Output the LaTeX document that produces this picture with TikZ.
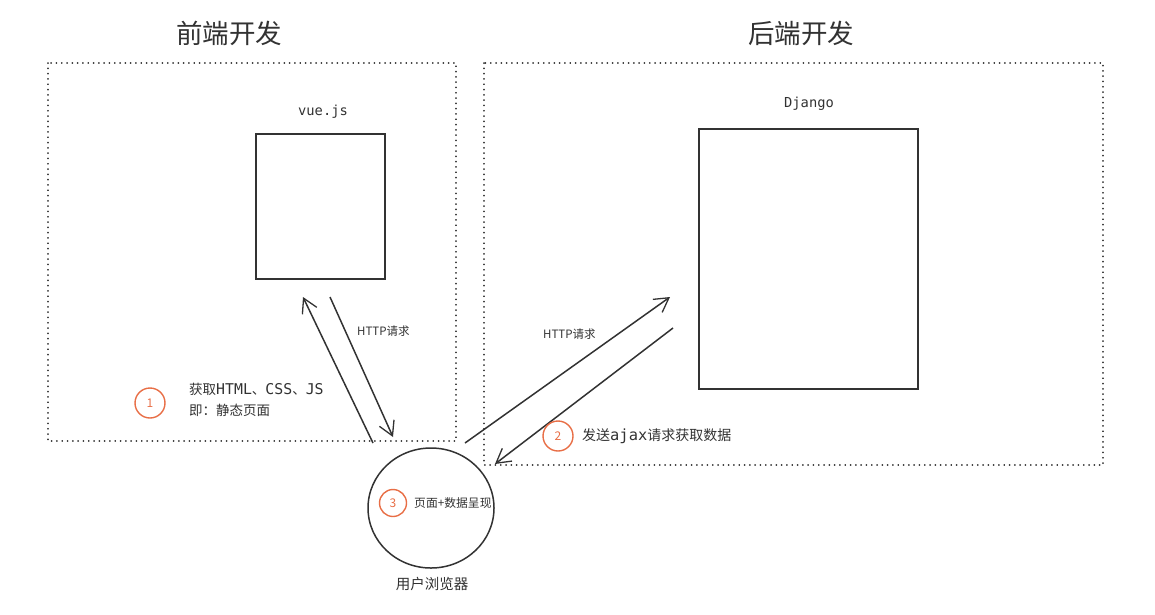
\documentclass[tikz,border=0pt]{standalone}
\usepackage{fontspec}
\setmainfont{Noto Sans CJK SC}
\setmonofont[Scale=1.1]{DejaVu Sans Mono}
\usetikzlibrary{arrows.meta,shapes.geometric}
\definecolor{ink}{RGB}{50,50,50}
\definecolor{mark}{RGB}{232,110,70}
\tikzset{
    zone/.style = {draw=ink, line width=1.8pt, dash pattern=on 0.1pt off 5.2pt, line cap=round},
    sketchbox/.style = {draw=ink, line width=1.5pt, inner sep=0pt},
    flow/.style = {draw=ink, line width=1.5pt, -{Straight Barb[length=14pt,width=16pt,line width=1.3pt]}},
    badge/.style = {circle, draw=mark, line width=1.4pt, text=mark, inner sep=0pt, font=\fontsize{12}{14}\selectfont},
    note/.style = {text=ink, inner sep=0pt, anchor=west}
}
\begin{document}
\begin{tikzpicture}[x=1pt, y=-1pt]
    \useasboundingbox (0,0) rectangle (1155,614);

    % two zones
    \draw[zone] (48,63) rectangle (456,441);
    \draw[zone] (484,63) rectangle (1103,465);
    \node[text=ink, font=\fontsize{26.5}{30}\selectfont] (front) at (229,33) {前端开发};
    \node[text=ink, font=\fontsize{26.5}{30}\selectfont] (back) at (801,33) {后端开发};

    % servers
    \node[sketchbox, minimum width=129pt, minimum height=145pt] (vue) at (320.5,206.5) {};
    \node[text=ink, font=\ttfamily\fontsize{12.5}{15}\selectfont] (vuelabel) at (323,112) {vue.js};
    \node[sketchbox, minimum width=219pt, minimum height=260pt] (django) at (808.5,259) {};
    \node[text=ink, font=\ttfamily\fontsize{12.5}{15}\selectfont] (djangolabel) at (809,104) {Django};

    % browser
    \node[draw=ink, line width=1.5pt, ellipse, minimum width=126pt, minimum height=120pt] (browser) at (431,508) {};
    \node[text=ink, font=\fontsize{14.5}{17}\selectfont] (browserlabel) at (432,584) {用户浏览器};

    % arrow ends
    \coordinate (a1) at (373,443);  \coordinate (b1) at (303,297);
    \coordinate (a2) at (330,297);  \coordinate (b2) at (393,437);
    \coordinate (a3) at (465,443);  \coordinate (b3) at (670,297);
    \coordinate (a4) at (673,328);  \coordinate (b4) at (495,464);
    \draw[flow] (a1) -- (b1);
    \draw[flow] (a2) -- (b2);
    \draw[flow] (a3) -- (b3);
    \draw[flow] (a4) -- (b4);
    \node[note, font=\fontsize{11.5}{13}\selectfont] (req1) at (357,331) {HTTP请求};
    \node[note, font=\fontsize{11.5}{13}\selectfont] (req2) at (543,334) {HTTP请求};

    % steps
    \node[badge, minimum size=30pt] (one) at (150,403) {1};
    \node[note, font=\fontsize{13.5}{21}\selectfont, align=left] (step1) at (189,400)
        {获取\texttt{HTML}、\texttt{CSS}、\texttt{JS}\\即：静态页面};
    \node[badge, minimum size=30pt] (two) at (558,436) {2};
    \node[note, font=\fontsize{14}{16}\selectfont] (step2) at (582,436) {发送\texttt{ajax}请求获取数据};
    \node[badge, minimum size=27pt] (three) at (393,503) {3};
    \node[note, font=\fontsize{11.8}{13}\selectfont] (step3) at (414,503) {页面+数据呈现};
\end{tikzpicture}
\end{document}
